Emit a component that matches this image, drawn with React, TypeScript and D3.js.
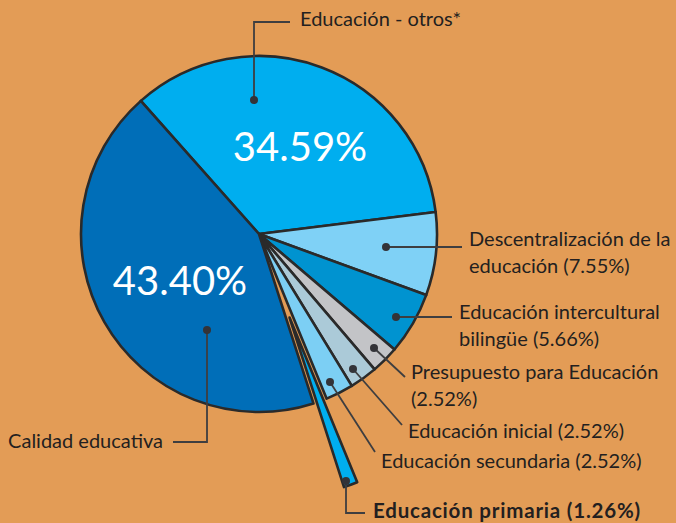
import React from "react";
import * as d3 from "d3";

const categories = [
  "Educación - otros*",
  "Descentralización de la educación",
  "Educación intercultural bilingüe",
  "Presupuesto para Educación",
  "Educación inicial",
  "Educación secundaria",
  "Educación primaria",
  "Calidad educativa",
];
const values = [34.59, 7.55, 5.66, 2.52, 2.52, 2.52, 1.26, 43.4];
const colors = ["#00AEEF", "#7FD1F6", "#0093D0", "#C3C4C7", "#ABCAD8", "#7CCFF4", "#00AEEF", "#006EB8"];
const exploded = [false, false, false, false, false, false, true, false];

// label text lines
const labelLines = [
  ["Educación - otros*"],
  ["Descentralización de la", "educación (7.55%)"],
  ["Educación intercultural", "bilingüe (5.66%)"],
  ["Presupuesto para Educación", "(2.52%)"],
  ["Educación inicial (2.52%)"],
  ["Educación secundaria (2.52%)"],
  ["Educación primaria (1.26%)"],
  ["Calidad educativa"],
];

const W = 676;
const H = 523;
const cx = 259;
const cy = 234;
const R = 178;
const explodeDist = 89;
const startDeg = -41.6;

export default function App() {
  const pie = d3
    .pie<number>()
    .sort(null)
    .value((d) => d)
    .startAngle((startDeg * Math.PI) / 180)
    .endAngle((startDeg * Math.PI) / 180 + 2 * Math.PI);
  const arcs = pie(values);
  const arc = d3.arc<d3.PieArcDatum<number>>().innerRadius(0).outerRadius(R);

  const offsetOf = (i: number) => {
    if (!exploded[i]) return [0, 0];
    const a = (arcs[i].startAngle + arcs[i].endAngle) / 2;
    return [Math.sin(a) * explodeDist, -Math.cos(a) * explodeDist];
  };

  const leaders: { dot: [number, number]; path: [number, number][]; tx: number; ty: number; anchor: string; bold?: boolean }[] = [
    { dot: [254, 100], path: [[254, 100], [254, 22], [290, 22]], tx: 300, ty: 26, anchor: "start" },
    { dot: [386, 247], path: [[386, 247], [462, 247]], tx: 469, ty: 246, anchor: "start" },
    { dot: [396, 317], path: [[396, 317], [452, 317]], tx: 459, ty: 319, anchor: "start" },
    { dot: [374, 348], path: [[374, 348], [405, 377]], tx: 411, ty: 379, anchor: "start" },
    { dot: [353, 369], path: [[353, 369], [402, 425]], tx: 408, ty: 438, anchor: "start" },
    { dot: [330, 382], path: [[330, 382], [375, 452]], tx: 381, ty: 468, anchor: "start" },
    { dot: [346, 481], path: [[346, 481], [346, 513], [365, 513]], tx: 373, ty: 518, anchor: "start", bold: true },
    { dot: [207, 330], path: [[207, 330], [207, 442], [173, 442]], tx: 163, ty: 448, anchor: "end" },
  ];

  const line = d3.line();

  return (
    <svg width={W} height={H} style={{ position: "absolute", left: 0, top: 0, display: "block" }} fontFamily="Lato, 'Open Sans', sans-serif">
      <rect x={0} y={0} width={W} height={H} fill="#E39C56" />
      <g transform={`translate(${cx},${cy})`}>
        {arcs.map((a, i) => {
          const [dx, dy] = offsetOf(i);
          return (
            <path
              key={i}
              d={arc(a) || ""}
              transform={`translate(${dx},${dy})`}
              fill={colors[i]}
              stroke="#2A2A2A"
              strokeWidth={2.6}
              strokeLinejoin="round"
            />
          );
        })}
      </g>
      <text x={300} y={161} textAnchor="middle" fill="#fff" fontSize={40} fontFamily="Lato, sans-serif">34.59%</text>
      <text x={180} y={295} textAnchor="middle" fill="#fff" fontSize={40} fontFamily="Lato, sans-serif">43.40%</text>
      {leaders.map((l, i) => (
        <g key={i}>
          <path d={line(l.path) || ""} fill="none" stroke="#3E3E40" strokeWidth={1.8} />
          <circle cx={l.dot[0]} cy={l.dot[1]} r={4} fill="#333338" />
          <text
            x={l.tx}
            y={l.ty}
            textAnchor={l.anchor}
            fontSize={l.bold ? 20.5 : 20}
            letterSpacing={l.bold ? 0.8 : 0}
            fill="#231F20"
            fontWeight={l.bold ? 700 : 400}
          >
            {labelLines[i].map((t, j) => (
              <tspan key={j} x={l.tx} dy={j === 0 ? 0 : 27}>{t}</tspan>
            ))}
          </text>
        </g>
      ))}
    </svg>
  );
}
